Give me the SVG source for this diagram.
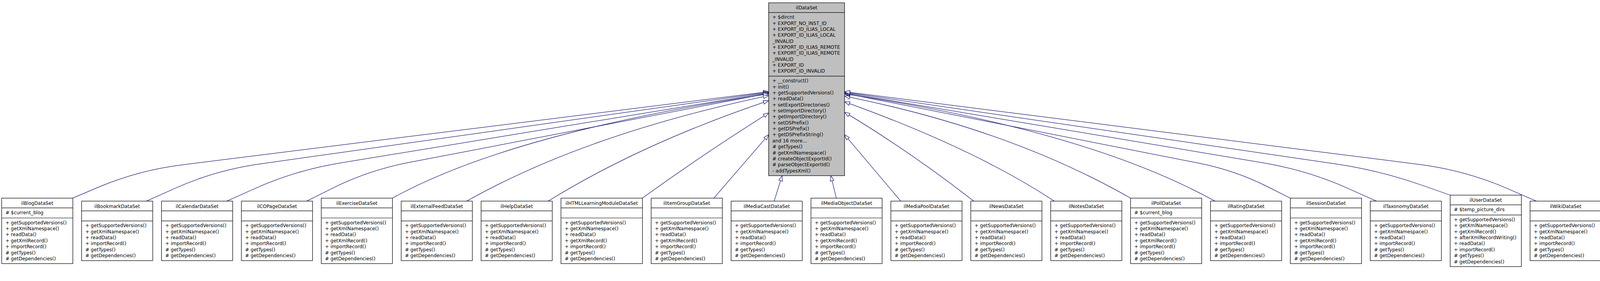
<svg xmlns="http://www.w3.org/2000/svg" width="4280" height="720" viewBox="0 0 4280 720">
<style>
.n rect{fill:#fff;stroke:#000;stroke-width:1.3}
.n path{fill:none;stroke:#000;stroke-width:1.3}
#ilDataSet rect{fill:#bfbfbf}
text{font-family:"DejaVu Sans",sans-serif;font-size:12.6px;fill:#000}
.t{text-anchor:middle}
#edges path{fill:none;stroke:#191970;stroke-width:1.3;marker-end:url(#arr)}
</style>
<defs>
<marker id="arr" viewBox="0 0 16 12" refX="15" refY="6" markerWidth="16" markerHeight="12" markerUnits="userSpaceOnUse" orient="auto"><path d="M1,1 L15,6 L1,11 z" fill="#fff" stroke="#191970" stroke-width="1.3"/></marker>
</defs>
<rect width="4280" height="720" fill="#fff"/>
<g transform="scale(0.9588)">
<g id="edges">
<path d="M194,529.5 L264,499.7 Q370.4,455 484.9,440.7 L2052.3,245"/>
<path d="M391,537.5 L464.3,504.5 Q574.3,455 693.7,438.2 L2052.3,246.5"/>
<path d="M605.5,537.5 L679,504.5 Q789.2,455 908.4,435.5 L2052.3,248"/>
<path d="M818.8,537.5 L884.8,504.5 Q983.8,455 1092.5,434.1 L2052.3,249.5"/>
<path d="M1047.5,529.5 Q1367,353.8 2052.3,251"/>
<path d="M1246,537.5 Q1564.1,358 2052.3,255.5"/>
<path d="M1463.5,537.5 Q1712.8,383.4 2052.3,269"/>
<path d="M1714.8,529.5 Q1875.3,413.5 2052.3,302"/>
<path d="M1906,529.5 L2052.3,360"/>
<path d="M2067,537.5 L2088.3,469.5"/>
<path d="M2233,529.5 L2218.3,469.5"/>
<path d="M2405,537.5 L2255,360"/>
<path d="M2600,537.5 Q2427.7,403.6 2255,300"/>
<path d="M2815,537.5 Q2602.7,397.2 2255,272"/>
<path d="M3018.6,529.5 Q2696.2,345.2 2255,257"/>
<path d="M3244,537.5 Q2901.2,347.9 2255,251"/>
<path d="M3445.3,529.5 L3386.1,499.7 Q3297.4,455 3199.9,435.8 L2255,249.5"/>
<path d="M3675,537.5 L3601.5,504.5 Q3491.3,455 3372.2,435.1 L2255,248"/>
<path d="M3872,521.5 L3796.4,494.9 Q3682.9,455 3563.9,437.6 L2255,246.5"/>
<path d="M4102,537.5 L4026.2,504.5 Q3912.6,455 3789.6,439.4 L2255,245"/>
</g>
<g id="ilDataSet" class="n">
<rect x="2052.3" y="7.5" width="202.7" height="462"/>
<path d="M2052.3,33.5H2255M2052.3,203.5H2255"/>
<text class="t" x="2153.65" y="25.5">ilDataSet</text>
<text x="2062.3" y="50.5"><tspan x="2062.3" dy="0">+ $dircnt</tspan><tspan x="2062.3" dy="16">+ EXPORT_NO_INST_ID</tspan><tspan x="2062.3" dy="16">+ EXPORT_ID_ILIAS_LOCAL</tspan><tspan x="2062.3" dy="16">+ EXPORT_ID_ILIAS_LOCAL</tspan><tspan x="2062.3" dy="16">_INVALID</tspan><tspan x="2062.3" dy="16">+ EXPORT_ID_ILIAS_REMOTE</tspan><tspan x="2062.3" dy="16">+ EXPORT_ID_ILIAS_REMOTE</tspan><tspan x="2062.3" dy="16">_INVALID</tspan><tspan x="2062.3" dy="16">+ EXPORT_ID</tspan><tspan x="2062.3" dy="16">+ EXPORT_ID_INVALID</tspan></text>
<text x="2062.3" y="220.5"><tspan x="2062.3" dy="0">+ __construct()</tspan><tspan x="2062.3" dy="16">+ init()</tspan><tspan x="2062.3" dy="16">+ getSupportedVersions()</tspan><tspan x="2062.3" dy="16">+ readData()</tspan><tspan x="2062.3" dy="16">+ setExportDirectories()</tspan><tspan x="2062.3" dy="16">+ setImportDirectory()</tspan><tspan x="2062.3" dy="16">+ getImportDirectory()</tspan><tspan x="2062.3" dy="16">+ setDSPrefix()</tspan><tspan x="2062.3" dy="16">+ getDSPrefix()</tspan><tspan x="2062.3" dy="16">+ getDSPrefixString()</tspan><tspan x="2062.3" dy="16">and 16 more...</tspan><tspan x="2062.3" dy="16"># getTypes()</tspan><tspan x="2062.3" dy="16"># getXmlNamespace()</tspan><tspan x="2062.3" dy="16"># createObjectExportId()</tspan><tspan x="2062.3" dy="16"># parseObjectExportId()</tspan><tspan x="2062.3" dy="16">- addTypesXml()</tspan></text>
</g>
<g id="ilBlogDataSet" class="n">
<rect x="4.5" y="529.5" width="190" height="175"/>
<path d="M4.5,555.5H194.5M4.5,582.5H194.5"/>
<text class="t" x="99.5" y="547.5">ilBlogDataSet</text>
<text x="14.5" y="572.5"># $current_blog</text>
<text x="14.5" y="599.5"><tspan x="14.5" dy="0">+ getSupportedVersions()</tspan><tspan x="14.5" dy="16">+ getXmlNamespace()</tspan><tspan x="14.5" dy="16">+ readData()</tspan><tspan x="14.5" dy="16">+ getXmlRecord()</tspan><tspan x="14.5" dy="16">+ importRecord()</tspan><tspan x="14.5" dy="16"># getTypes()</tspan><tspan x="14.5" dy="16"># getDependencies()</tspan></text>
</g>
<g id="ilBookmarkDataSet" class="n">
<rect x="217.8" y="537.5" width="190" height="159"/>
<path d="M217.8,563.5H407.8M217.8,590.5H407.8"/>
<text class="t" x="312.8" y="555.5">ilBookmarkDataSet</text>
<text x="227.8" y="607.5"><tspan x="227.8" dy="0">+ getSupportedVersions()</tspan><tspan x="227.8" dy="16">+ getXmlNamespace()</tspan><tspan x="227.8" dy="16">+ readData()</tspan><tspan x="227.8" dy="16">+ importRecord()</tspan><tspan x="227.8" dy="16"># getTypes()</tspan><tspan x="227.8" dy="16"># getDependencies()</tspan></text>
</g>
<g id="ilCalendarDataSet" class="n">
<rect x="431.2" y="537.5" width="190" height="159"/>
<path d="M431.2,563.5H621.2M431.2,590.5H621.2"/>
<text class="t" x="526.2" y="555.5">ilCalendarDataSet</text>
<text x="441.2" y="607.5"><tspan x="441.2" dy="0">+ getSupportedVersions()</tspan><tspan x="441.2" dy="16">+ getXmlNamespace()</tspan><tspan x="441.2" dy="16">+ readData()</tspan><tspan x="441.2" dy="16">+ importRecord()</tspan><tspan x="441.2" dy="16"># getTypes()</tspan><tspan x="441.2" dy="16"># getDependencies()</tspan></text>
</g>
<g id="ilCOPageDataSet" class="n">
<rect x="644.5" y="537.5" width="190" height="159"/>
<path d="M644.5,563.5H834.5M644.5,590.5H834.5"/>
<text class="t" x="739.5" y="555.5">ilCOPageDataSet</text>
<text x="654.5" y="607.5"><tspan x="654.5" dy="0">+ getSupportedVersions()</tspan><tspan x="654.5" dy="16">+ getXmlNamespace()</tspan><tspan x="654.5" dy="16">+ readData()</tspan><tspan x="654.5" dy="16">+ importRecord()</tspan><tspan x="654.5" dy="16"># getTypes()</tspan><tspan x="654.5" dy="16"># getDependencies()</tspan></text>
</g>
<g id="ilExerciseDataSet" class="n">
<rect x="857.8" y="529.5" width="190" height="175"/>
<path d="M857.8,555.5H1047.8M857.8,582.5H1047.8"/>
<text class="t" x="952.8" y="547.5">ilExerciseDataSet</text>
<text x="867.8" y="599.5"><tspan x="867.8" dy="0">+ getSupportedVersions()</tspan><tspan x="867.8" dy="16">+ getXmlNamespace()</tspan><tspan x="867.8" dy="16">+ readData()</tspan><tspan x="867.8" dy="16">+ getXmlRecord()</tspan><tspan x="867.8" dy="16">+ importRecord()</tspan><tspan x="867.8" dy="16"># getTypes()</tspan><tspan x="867.8" dy="16"># getDependencies()</tspan></text>
</g>
<g id="ilExternalFeedDataSet" class="n">
<rect x="1071.2" y="537.5" width="190" height="159"/>
<path d="M1071.2,563.5H1261.2M1071.2,590.5H1261.2"/>
<text class="t" x="1166.2" y="555.5">ilExternalFeedDataSet</text>
<text x="1081.2" y="607.5"><tspan x="1081.2" dy="0">+ getSupportedVersions()</tspan><tspan x="1081.2" dy="16">+ getXmlNamespace()</tspan><tspan x="1081.2" dy="16">+ readData()</tspan><tspan x="1081.2" dy="16">+ importRecord()</tspan><tspan x="1081.2" dy="16"># getTypes()</tspan><tspan x="1081.2" dy="16"># getDependencies()</tspan></text>
</g>
<g id="ilHelpDataSet" class="n">
<rect x="1284.5" y="537.5" width="190" height="159"/>
<path d="M1284.5,563.5H1474.5M1284.5,590.5H1474.5"/>
<text class="t" x="1379.5" y="555.5">ilHelpDataSet</text>
<text x="1294.5" y="607.5"><tspan x="1294.5" dy="0">+ getSupportedVersions()</tspan><tspan x="1294.5" dy="16">+ getXmlNamespace()</tspan><tspan x="1294.5" dy="16">+ readData()</tspan><tspan x="1294.5" dy="16">+ importRecord()</tspan><tspan x="1294.5" dy="16"># getTypes()</tspan><tspan x="1294.5" dy="16"># getDependencies()</tspan></text>
</g>
<g id="ilHTMLLearningModuleDataSet" class="n">
<rect x="1497.8" y="529.5" width="217.5" height="175"/>
<path d="M1497.8,555.5H1715.3M1497.8,582.5H1715.3"/>
<text class="t" x="1606.55" y="547.5">ilHTMLLearningModuleDataSet</text>
<text x="1507.8" y="599.5"><tspan x="1507.8" dy="0">+ getSupportedVersions()</tspan><tspan x="1507.8" dy="16">+ getXmlNamespace()</tspan><tspan x="1507.8" dy="16">+ readData()</tspan><tspan x="1507.8" dy="16">+ getXmlRecord()</tspan><tspan x="1507.8" dy="16">+ importRecord()</tspan><tspan x="1507.8" dy="16"># getTypes()</tspan><tspan x="1507.8" dy="16"># getDependencies()</tspan></text>
</g>
<g id="ilItemGroupDataSet" class="n">
<rect x="1738.6" y="529.5" width="190" height="175"/>
<path d="M1738.6,555.5H1928.6M1738.6,582.5H1928.6"/>
<text class="t" x="1833.6" y="547.5">ilItemGroupDataSet</text>
<text x="1748.6" y="599.5"><tspan x="1748.6" dy="0">+ getSupportedVersions()</tspan><tspan x="1748.6" dy="16">+ getXmlNamespace()</tspan><tspan x="1748.6" dy="16">+ readData()</tspan><tspan x="1748.6" dy="16">+ getXmlRecord()</tspan><tspan x="1748.6" dy="16">+ importRecord()</tspan><tspan x="1748.6" dy="16"># getTypes()</tspan><tspan x="1748.6" dy="16"># getDependencies()</tspan></text>
</g>
<g id="ilMediaCastDataSet" class="n">
<rect x="1952" y="537.5" width="190" height="159"/>
<path d="M1952,563.5H2142M1952,590.5H2142"/>
<text class="t" x="2047" y="555.5">ilMediaCastDataSet</text>
<text x="1962" y="607.5"><tspan x="1962" dy="0">+ getSupportedVersions()</tspan><tspan x="1962" dy="16">+ getXmlNamespace()</tspan><tspan x="1962" dy="16">+ readData()</tspan><tspan x="1962" dy="16">+ importRecord()</tspan><tspan x="1962" dy="16"># getTypes()</tspan><tspan x="1962" dy="16"># getDependencies()</tspan></text>
</g>
<g id="ilMediaObjectDataSet" class="n">
<rect x="2165.3" y="529.5" width="190" height="175"/>
<path d="M2165.3,555.5H2355.3M2165.3,582.5H2355.3"/>
<text class="t" x="2260.3" y="547.5">ilMediaObjectDataSet</text>
<text x="2175.3" y="599.5"><tspan x="2175.3" dy="0">+ getSupportedVersions()</tspan><tspan x="2175.3" dy="16">+ getXmlNamespace()</tspan><tspan x="2175.3" dy="16">+ readData()</tspan><tspan x="2175.3" dy="16">+ getXmlRecord()</tspan><tspan x="2175.3" dy="16">+ importRecord()</tspan><tspan x="2175.3" dy="16"># getTypes()</tspan><tspan x="2175.3" dy="16"># getDependencies()</tspan></text>
</g>
<g id="ilMediaPoolDataSet" class="n">
<rect x="2378.6" y="537.5" width="190" height="159"/>
<path d="M2378.6,563.5H2568.6M2378.6,590.5H2568.6"/>
<text class="t" x="2473.6" y="555.5">ilMediaPoolDataSet</text>
<text x="2388.6" y="607.5"><tspan x="2388.6" dy="0">+ getSupportedVersions()</tspan><tspan x="2388.6" dy="16">+ getXmlNamespace()</tspan><tspan x="2388.6" dy="16">+ readData()</tspan><tspan x="2388.6" dy="16">+ importRecord()</tspan><tspan x="2388.6" dy="16"># getTypes()</tspan><tspan x="2388.6" dy="16"># getDependencies()</tspan></text>
</g>
<g id="ilNewsDataSet" class="n">
<rect x="2592" y="537.5" width="190" height="159"/>
<path d="M2592,563.5H2782M2592,590.5H2782"/>
<text class="t" x="2687" y="555.5">ilNewsDataSet</text>
<text x="2602" y="607.5"><tspan x="2602" dy="0">+ getSupportedVersions()</tspan><tspan x="2602" dy="16">+ getXmlNamespace()</tspan><tspan x="2602" dy="16">+ readData()</tspan><tspan x="2602" dy="16">+ importRecord()</tspan><tspan x="2602" dy="16"># getTypes()</tspan><tspan x="2602" dy="16"># getDependencies()</tspan></text>
</g>
<g id="ilNotesDataSet" class="n">
<rect x="2805.3" y="537.5" width="190" height="159"/>
<path d="M2805.3,563.5H2995.3M2805.3,590.5H2995.3"/>
<text class="t" x="2900.3" y="555.5">ilNotesDataSet</text>
<text x="2815.3" y="607.5"><tspan x="2815.3" dy="0">+ getSupportedVersions()</tspan><tspan x="2815.3" dy="16">+ getXmlNamespace()</tspan><tspan x="2815.3" dy="16">+ readData()</tspan><tspan x="2815.3" dy="16">+ importRecord()</tspan><tspan x="2815.3" dy="16"># getTypes()</tspan><tspan x="2815.3" dy="16"># getDependencies()</tspan></text>
</g>
<g id="ilPollDataSet" class="n">
<rect x="3018.6" y="529.5" width="190" height="175"/>
<path d="M3018.6,555.5H3208.6M3018.6,582.5H3208.6"/>
<text class="t" x="3113.6" y="547.5">ilPollDataSet</text>
<text x="3028.6" y="572.5"># $current_blog</text>
<text x="3028.6" y="599.5"><tspan x="3028.6" dy="0">+ getSupportedVersions()</tspan><tspan x="3028.6" dy="16">+ getXmlNamespace()</tspan><tspan x="3028.6" dy="16">+ readData()</tspan><tspan x="3028.6" dy="16">+ getXmlRecord()</tspan><tspan x="3028.6" dy="16">+ importRecord()</tspan><tspan x="3028.6" dy="16"># getTypes()</tspan><tspan x="3028.6" dy="16"># getDependencies()</tspan></text>
</g>
<g id="ilRatingDataSet" class="n">
<rect x="3232" y="537.5" width="190" height="159"/>
<path d="M3232,563.5H3422M3232,590.5H3422"/>
<text class="t" x="3327" y="555.5">ilRatingDataSet</text>
<text x="3242" y="607.5"><tspan x="3242" dy="0">+ getSupportedVersions()</tspan><tspan x="3242" dy="16">+ getXmlNamespace()</tspan><tspan x="3242" dy="16">+ readData()</tspan><tspan x="3242" dy="16">+ importRecord()</tspan><tspan x="3242" dy="16"># getTypes()</tspan><tspan x="3242" dy="16"># getDependencies()</tspan></text>
</g>
<g id="ilSessionDataSet" class="n">
<rect x="3445.3" y="529.5" width="190" height="175"/>
<path d="M3445.3,555.5H3635.3M3445.3,582.5H3635.3"/>
<text class="t" x="3540.3" y="547.5">ilSessionDataSet</text>
<text x="3455.3" y="599.5"><tspan x="3455.3" dy="0">+ getSupportedVersions()</tspan><tspan x="3455.3" dy="16">+ getXmlNamespace()</tspan><tspan x="3455.3" dy="16">+ readData()</tspan><tspan x="3455.3" dy="16">+ getXmlRecord()</tspan><tspan x="3455.3" dy="16">+ importRecord()</tspan><tspan x="3455.3" dy="16"># getTypes()</tspan><tspan x="3455.3" dy="16"># getDependencies()</tspan></text>
</g>
<g id="ilTaxonomyDataSet" class="n">
<rect x="3658.6" y="537.5" width="190" height="159"/>
<path d="M3658.6,563.5H3848.6M3658.6,590.5H3848.6"/>
<text class="t" x="3753.6" y="555.5">ilTaxonomyDataSet</text>
<text x="3668.6" y="607.5"><tspan x="3668.6" dy="0">+ getSupportedVersions()</tspan><tspan x="3668.6" dy="16">+ getXmlNamespace()</tspan><tspan x="3668.6" dy="16">+ readData()</tspan><tspan x="3668.6" dy="16">+ importRecord()</tspan><tspan x="3668.6" dy="16"># getTypes()</tspan><tspan x="3668.6" dy="16"># getDependencies()</tspan></text>
</g>
<g id="ilUserDataSet" class="n">
<rect x="3872" y="521.5" width="190" height="191"/>
<path d="M3872,547.5H4062M3872,574.5H4062"/>
<text class="t" x="3967" y="539.5">ilUserDataSet</text>
<text x="3882" y="564.5"># $temp_picture_dirs</text>
<text x="3882" y="591.5"><tspan x="3882" dy="0">+ getSupportedVersions()</tspan><tspan x="3882" dy="16">+ getXmlNamespace()</tspan><tspan x="3882" dy="16">+ getXmlRecord()</tspan><tspan x="3882" dy="16">+ afterXmlRecordWriting()</tspan><tspan x="3882" dy="16">+ readData()</tspan><tspan x="3882" dy="16">+ importRecord()</tspan><tspan x="3882" dy="16"># getTypes()</tspan><tspan x="3882" dy="16"># getDependencies()</tspan></text>
</g>
<g id="ilWikiDataSet" class="n">
<rect x="4085.3" y="537.5" width="190" height="159"/>
<path d="M4085.3,563.5H4275.3M4085.3,590.5H4275.3"/>
<text class="t" x="4180.3" y="555.5">ilWikiDataSet</text>
<text x="4095.3" y="607.5"><tspan x="4095.3" dy="0">+ getSupportedVersions()</tspan><tspan x="4095.3" dy="16">+ getXmlNamespace()</tspan><tspan x="4095.3" dy="16">+ readData()</tspan><tspan x="4095.3" dy="16">+ importRecord()</tspan><tspan x="4095.3" dy="16"># getTypes()</tspan><tspan x="4095.3" dy="16"># getDependencies()</tspan></text>
</g>
</g>
</svg>
